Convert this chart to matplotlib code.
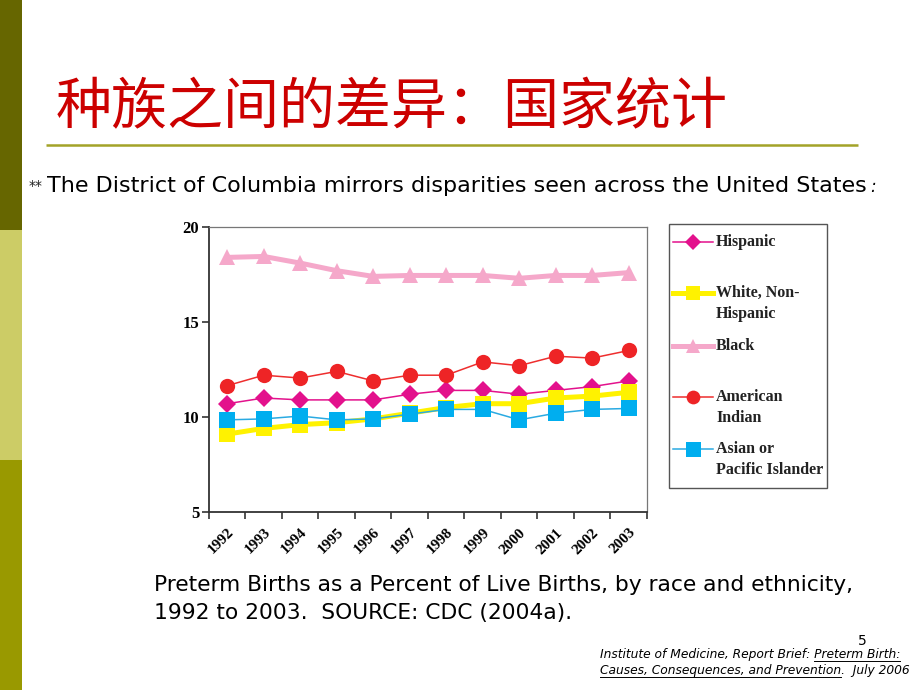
import matplotlib
matplotlib.use("Agg")
import matplotlib.pyplot as plt
from matplotlib.lines import Line2D
import numpy as np

# ---------------- data ----------------
years = ["1992", "1993", "1994", "1995", "1996", "1997",
         "1998", "1999", "2000", "2001", "2002", "2003"]
hispanic = [10.7, 11.0, 10.9, 10.9, 10.9, 11.2, 11.4, 11.4, 11.2, 11.4, 11.6, 11.9]
white = [9.1, 9.4, 9.6, 9.7, 9.9, 10.2, 10.5, 10.7, 10.7, 11.0, 11.1, 11.3]
black = [18.4, 18.45, 18.1, 17.7, 17.4, 17.45, 17.45, 17.45, 17.3, 17.45, 17.45, 17.6]
american_indian = [11.65, 12.2, 12.05, 12.4, 11.9, 12.2, 12.2, 12.9, 12.7, 13.2, 13.1, 13.5]
asian = [9.85, 9.9, 10.05, 9.85, 9.9, 10.15, 10.4, 10.4, 9.85, 10.2, 10.4, 10.45]
yticks_vals = [5, 10, 15, 20]

series_names = ["Hispanic", "White, Non-\nHispanic", "Black",
                "American\nIndian", "Asian or\nPacific Islander"]
series_values = [hispanic, white, black, american_indian, asian]

title_text = "种族之间的差异：国家统计"
subtitle_text = "The District of Columbia mirrors disparities seen across the United States"
caption_lines = ["Preterm Births as a Percent of Live Births, by race and ethnicity,",
                 "1992 to 2003.  SOURCE: CDC (2004a)."]
slide_number = "5"

# ---------------- styles ----------------
styles = [
    dict(color="#E3118C", lw=1.1, marker="D", ms=9, mfc="#E3118C", mec="#E3118C"),
    dict(color="#FFF200", lw=3.6, marker="s", ms=11, mfc="#FFF200", mec="#FFF200"),
    dict(color="#F5A8CA", lw=3.6, marker="^", ms=11, mfc="#F5A8CA", mec="#F5A8CA"),
    dict(color="#EE2E2E", lw=1.1, marker="o", ms=11, mfc="#EE2426", mec="#EE2426"),
    dict(color="#2AAAE2", lw=1.1, marker="s", ms=12, mfc="#00AEEF", mec="#00AEEF"),
]

W, H = 920, 690
fig = plt.figure(figsize=(W / 100, H / 100), dpi=100)
fig.patch.set_facecolor("white")

# page overlay in pixel coordinates
page = fig.add_axes([0, 0, 1, 1], zorder=0)
page.set_xlim(0, W)
page.set_ylim(H, 0)
page.axis("off")
page.patch.set_alpha(0)

# left decorative bar
page.add_patch(plt.Rectangle((0, 0), 22, 230, color="#666600", lw=0))
page.add_patch(plt.Rectangle((0, 230), 22, 230, color="#CCCC66", lw=0))
page.add_patch(plt.Rectangle((0, 460), 22, 230, color="#999900", lw=0))

renderer = fig.canvas.get_renderer()


def px_width(t):
    bb = t.get_window_extent(renderer=renderer)
    return bb.width


def fit_text(x0, x1, y, s, size0, **kw):
    t = page.text(x0, y, s, fontsize=size0, ha="left", **kw)
    w = px_width(t)
    t.set_fontsize(size0 * (x1 - x0) / w)
    return t


body_font = "DejaVu Sans"

# title
fit_text(56, 727, 108, title_text, 40, va="center", color="#CC0000",
         family=["Noto Sans CJK SC", "DejaVu Sans"])
page.plot([46, 858], [145, 145], color="#A3A328", lw=1.8, solid_capstyle="butt")

# subtitle
page.text(29, 186, "**", fontsize=10, style="italic", va="center", color="#222222",
          family="DejaVu Sans")
fit_text(47, 868, 186, subtitle_text, 14, va="center", color="black", family=body_font)
page.text(870, 187, ":", fontsize=12, style="italic", va="center", color="black",
          family="DejaVu Sans")

# caption
t1 = fit_text(154, 855, 591, caption_lines[0], 14, va="baseline", color="black",
              family=body_font)
cap_size = t1.get_fontsize()
page.text(154, 619, caption_lines[1], fontsize=cap_size, va="baseline", color="black",
          family=body_font)

# slide number
page.text(862, 641, slide_number, fontsize=10, ha="center", va="center", color="black",
          family="DejaVu Sans")

# citation with underlines
cit1_pre = "Institute of Medicine, Report Brief: "
cit1_ul = "Preterm Birth:"
cit2_ul = "Causes, Consequences, and Prevention"
cit2_post = ".  July 2006"
c1 = fit_text(600, 903, 658, cit1_pre + cit1_ul, 9, va="baseline", style="italic",
              color="black", family="DejaVu Sans")
csize = c1.get_fontsize()
c2 = page.text(600, 674, cit2_ul + cit2_post, fontsize=csize, va="baseline", style="italic",
               color="black", family="DejaVu Sans")
tmp = page.text(0, 0, cit1_ul, fontsize=csize, style="italic", family="DejaVu Sans")
w_ul1 = px_width(tmp)
tmp.remove()
w_full1 = px_width(c1)
page.plot([600 + w_full1 - w_ul1, 600 + w_full1], [660.5, 660.5], color="black", lw=0.7)
tmp = page.text(0, 0, cit2_ul, fontsize=csize, style="italic", family="DejaVu Sans")
w_ul2 = px_width(tmp)
tmp.remove()
page.plot([600, 600 + w_ul2], [676.5, 676.5], color="black", lw=0.7)

# ---------------- chart ----------------
ax_l, ax_r, ax_t, ax_b = 209, 647, 227, 512
ax = fig.add_axes([ax_l / W, 1 - ax_b / H, (ax_r - ax_l) / W, (ax_b - ax_t) / H], zorder=2)
x = np.arange(len(years))
for name, vals, st in zip(series_names, series_values, styles):
    ax.plot(x, vals, color=st["color"], lw=st["lw"], marker=st["marker"], ms=st["ms"],
            mfc=st["mfc"], mec=st["mec"], mew=0, solid_joinstyle="round", clip_on=False)

ax.set_xlim(-0.5, len(years) - 0.5)
ax.set_ylim(5, 20)
ax.set_yticks(yticks_vals)
ax.set_yticklabels([str(v) for v in yticks_vals], family="Liberation Serif",
                   fontweight="bold", fontsize=12)
ax.set_xticks(np.arange(len(years) + 1) - 0.5)
ax.set_xticklabels([])
ax.set_xticks(x, minor=True)
ax.set_xticklabels(years, minor=True, rotation=45, ha="right", va="top",
                   rotation_mode="anchor", family="Liberation Serif",
                   fontweight="bold", fontsize=11)
ax.tick_params(axis="x", which="minor", length=0, pad=10)
ax.tick_params(axis="x", which="major", length=5, width=1.2, color="#333333", direction="out")
ax.tick_params(axis="y", length=5, width=1.2, color="#333333", direction="out", pad=2)
for side in ["left", "bottom"]:
    ax.spines[side].set_color("#333333")
    ax.spines[side].set_linewidth(1.3)
for side in ["top", "right"]:
    ax.spines[side].set_color("#777777")
    ax.spines[side].set_linewidth(0.9)

# ---------------- legend (manual, pixel coordinates) ----------------
page.add_patch(plt.Rectangle((669, 224), 827 - 669, 488 - 224, fill=False,
                             ec="#555555", lw=1.0, zorder=3))
leg_y = [241.5, 293, 346, 397, 449]
for name, st, yy in zip(series_names, styles, leg_y):
    page.add_line(Line2D([673, 693, 713], [yy, yy, yy], color=st["color"], lw=st["lw"],
                         marker=st["marker"], ms=st["ms"] * 0.9, mfc=st["mfc"],
                         mec=st["mec"], mew=0, markevery=[1], zorder=4))
    for i, line in enumerate(name.split("\n")):
        page.text(716, yy + i * 21.5, line, fontsize=11.5, fontweight="bold",
                  family="Liberation Serif", va="center", ha="left", color="#222222",
                  zorder=4)

fig.savefig("out.png", dpi=100, facecolor="white")
